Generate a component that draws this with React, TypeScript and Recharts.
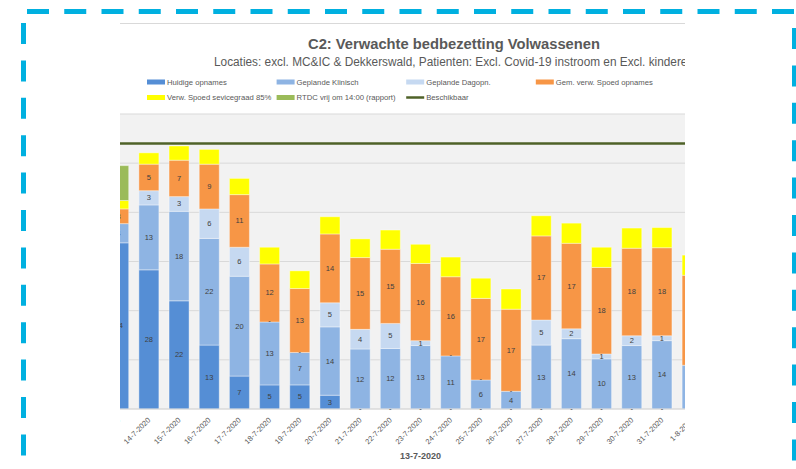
import React from "react";
import {
  ComposedChart,
  Bar,
  Line,
  XAxis,
  YAxis,
  CartesianGrid,
  Legend,
  LabelList,
} from "recharts";

const DATES = [
  "13-7-2020", "14-7-2020", "15-7-2020", "16-7-2020", "17-7-2020",
  "18-7-2020", "19-7-2020", "20-7-2020", "21-7-2020", "22-7-2020",
  "23-7-2020", "24-7-2020", "25-7-2020", "26-7-2020", "27-7-2020",
  "28-7-2020", "29-7-2020", "30-7-2020", "31-7-2020", "1-8-2020",
];
const HUIDIGE = [33.8, 28.3, 22.0, 13.0, 6.7, 4.9, 4.9, 2.8, 0, 0, 0, 0, 0, 0, 0, 0, 0, 0, 0, 0];
const KLINISCH = [3.9, 13.2, 18.2, 21.7, 20.3, 12.8, 6.6, 13.9, 12.2, 12.3, 12.9, 10.8, 5.9, 3.6, 13.0, 14.3, 10.2, 12.9, 13.9, 8.9];
const DAGOPN = [0, 2.9, 3.0, 6.0, 5.9, 0, 0, 4.9, 4.0, 5.1, 1.0, 0, 0, 0, 5.1, 2.0, 1.0, 2.0, 1.0, 0];
const SPOED = [3.0, 5.4, 7.4, 9.1, 10.7, 11.8, 13.0, 14.0, 14.6, 15.1, 15.7, 16.1, 16.6, 16.7, 17.1, 17.4, 17.6, 17.8, 17.9, 18.3];
const SERVICEGRAAD = [1.7, 2.3, 2.9, 3.0, 3.3, 3.4, 3.6, 3.5, 3.8, 3.9, 3.9, 4.0, 4.1, 4.1, 4.1, 4.1, 4.1, 4.1, 4.1, 4.1];
const RTDC = [7.1, 0, 0, 0, 0, 0, 0, 0, 0, 0, 0, 0, 0, 0, 0, 0, 0, 0, 0, 0];
const BESCHIKBAAR = [54, 54, 54, 54, 54, 54, 54, 54, 54, 54, 54, 54, 54, 54, 54, 54, 54, 54, 54, 54];
const Y_TICKS = [0, 10, 20, 30, 40, 50, 60];

const TITLE = "C2: Verwachte bedbezetting Volwassenen";
const SUBTITLE =
  "Locaties: excl. MC&IC & Dekkerswald, Patienten: Excl. Covid-19 instroom en Excl. kinderen";
const AXIS_TITLE = "13-7-2020";

const C_HUIDIGE = "#558ed5";
const C_KLINISCH = "#8eb4e3";
const C_DAGOPN = "#c6d9f1";
const C_SPOED = "#f79646";
const C_YELLOW = "#ffff00";
const C_RTDC = "#9bbb59";
const C_BESCHIKBAAR = "#4f6228";

const FONT = "'Liberation Sans', Arial, sans-serif";
const GREY = "#595959";
const LABEL_GREY = "#404040";

const data = DATES.map((date, i) => ({
  date,
  huidige: HUIDIGE[i],
  klinisch: KLINISCH[i],
  dagopn: DAGOPN[i],
  spoed: SPOED[i],
  servicegraad: SERVICEGRAAD[i],
  rtdc: RTDC[i],
  beschikbaar: BESCHIKBAAR[i],
}));

// legend layout: 4 columns, 2 rows
const LEGEND_ITEMS = [
  { name: "Huidige opnames", color: C_HUIDIGE, line: false },
  { name: "Geplande Klinisch", color: C_KLINISCH, line: false },
  { name: "Geplande Dagopn.", color: C_DAGOPN, line: false },
  { name: "Gem. verw. Spoed opnames", color: C_SPOED, line: false },
  { name: "Verw. Spoed sevicegraad 85%", color: C_YELLOW, line: false },
  { name: "RTDC vrij om 14:00 (rapport)", color: C_RTDC, line: false },
  { name: "Beschikbaar", color: C_BESCHIKBAAR, line: true },
];
const LEGEND_COLS = [147, 276.6, 406.2, 535.8];
const LEGEND_ROWS = [82, 97.5];

function ChartLegend() {
  return (
    <svg width={796} height={110} style={{ display: "block" }}>
      {LEGEND_ITEMS.map((it, i) => {
        const x = LEGEND_COLS[i % 4];
        const y = LEGEND_ROWS[Math.floor(i / 4)];
        return (
          <g key={it.name}>
            {it.line ? (
              <line x1={x} x2={x + 18} y1={y} y2={y} stroke={it.color} strokeWidth={2.5} />
            ) : (
              <rect x={x} y={y - 2.5} width={18} height={5} fill={it.color} />
            )}
            <text
              x={x + 20}
              y={y}
              dominantBaseline="central"
              fontSize={7.7}
              fontFamily={FONT}
              fill={GREY}
            >
              {it.name}
            </text>
          </g>
        );
      })}
    </svg>
  );
}

const labelText = (x: number, y: number, s: string | number) => (
  <text
    x={x}
    y={y}
    textAnchor="middle"
    dominantBaseline="central"
    fontSize={7.5}
    fontFamily={FONT}
    fill={LABEL_GREY}
  >
    {s}
  </text>
);

const getBox = (p: any) =>
  p.viewBox && p.viewBox.width !== undefined ? p.viewBox : p;

// plain value label, centred in the segment
const valueLabel = (p: any) => {
  const vb = getBox(p);
  const v = Number(p.value);
  return labelText(vb.x + vb.width / 2, vb.y + vb.height / 2, v === 0 ? "-" : Math.round(v));
};

// klinisch label also shows the "-" marks of empty huidige / dagopn segments
const klinischLabel = (p: any) => {
  const vb = getBox(p);
  const cx = vb.x + vb.width / 2;
  const top = Math.min(vb.y, vb.y + vb.height);
  const bottom = Math.max(vb.y, vb.y + vb.height);
  const i = p.index;
  const showTop = i != null && DAGOPN[i] === 0 && SPOED[i] > 4 && KLINISCH[i] > 3;
  return (
    <g>
      {labelText(cx, (top + bottom) / 2, Math.round(Number(p.value)))}
      {i != null && HUIDIGE[i] === 0 ? labelText(cx, bottom - 1, "-") : null}
      {showTop ? labelText(cx, top - 1, "-") : null}
    </g>
  );
};

const DateTick = (p: any) => {
  const x = p.x + 2;
  const y = p.y + 3.5;
  return (
    <text
      x={x}
      y={y}
      transform={`rotate(-45 ${x} ${y})`}
      textAnchor="end"
      fontSize={7.5}
      fontFamily={FONT}
      fill={GREY}
    >
      {p.payload.value}
    </text>
  );
};

const SEG_STROKE = { stroke: "#ffffff", strokeOpacity: 0.5, strokeWidth: 0.75 };

export default function App() {
  return (
    <div
      style={{
        position: "absolute",
        left: 0,
        top: 0,
        width: 796,
        height: 469,
        background: "#fff",
        overflow: "hidden",
      }}
    >
      {/* dashed frame */}
      <svg width={796} height={469} style={{ position: "absolute", left: 0, top: 0 }}>
        <line x1={27} x2={796} y1={11.5} y2={11.5} stroke="#00b0e0" strokeWidth={5} strokeDasharray="22 15.25" />
        <line x1={23.5} x2={23.5} y1={23} y2={469} stroke="#00b0e0" strokeWidth={5} strokeDasharray="21 16.4" />
        <line x1={794.5} x2={794.5} y1={28} y2={469} stroke="#00b0e0" strokeWidth={5} strokeDasharray="21 16.4" />
      </svg>

      {/* cropped chart */}
      <div
        style={{
          position: "absolute",
          left: 0,
          top: 0,
          width: 796,
          height: 469,
          clipPath: "inset(22px 111px 0px 120px)",
        }}
      >
        <svg width={796} height={469} style={{ position: "absolute", left: 0, top: 0 }}>
          <line x1={120} x2={685} y1={23.5} y2={23.5} stroke="#d9d9d9" />
          <text x={308} y={48.5} fontSize={14.5} fontWeight="bold" fontFamily={FONT} fill={GREY} textLength={292} lengthAdjust="spacingAndGlyphs">
            {TITLE}
          </text>
          <text x={214} y={66} fontSize={12} fontFamily={FONT} fill={GREY} textLength={480} lengthAdjust="spacingAndGlyphs">
            {SUBTITLE}
          </text>
        </svg>
        <div style={{ position: "absolute", left: 0, top: 0 }}>
          <ComposedChart
            width={796}
            height={469}
            data={data}
            margin={{ top: 114, right: 88.7, bottom: 0, left: 103.7 }}
          >
            <CartesianGrid vertical={false} fill="#f2f2f2" stroke="#d9d9d9" />
            <XAxis
              dataKey="date"
              height={60}
              interval={0}
              tickLine={false}
              axisLine={{ stroke: "#d9d9d9" }}
              tick={DateTick}
              label={{
                value: AXIS_TITLE,
                position: "insideBottom",
                offset: 10,
                dx: 15,
                fontSize: 9,
                fontWeight: "bold",
                fontFamily: FONT,
                fill: GREY,
              }}
            />
            <YAxis hide domain={[0, 60]} ticks={Y_TICKS} />
            <Legend
              layout="horizontal"
              verticalAlign="middle"
              align="center"
              wrapperStyle={{ left: 0, top: 0, width: 796, height: 110 }}
              content={() => <ChartLegend />}
            />
            <Bar dataKey="huidige" name="Huidige opnames" stackId="a" fill={C_HUIDIGE} {...SEG_STROKE} barSize={20} isAnimationActive={false}>
              <LabelList dataKey="huidige" content={valueLabel} />
            </Bar>
            <Bar dataKey="klinisch" name="Geplande Klinisch" stackId="a" fill={C_KLINISCH} {...SEG_STROKE} barSize={20} isAnimationActive={false}>
              <LabelList dataKey="klinisch" content={klinischLabel} />
            </Bar>
            <Bar dataKey="dagopn" name="Geplande Dagopn." stackId="a" fill={C_DAGOPN} {...SEG_STROKE} barSize={20} isAnimationActive={false}>
              <LabelList dataKey="dagopn" content={valueLabel} />
            </Bar>
            <Bar dataKey="spoed" name="Gem. verw. Spoed opnames" stackId="a" fill={C_SPOED} {...SEG_STROKE} barSize={20} isAnimationActive={false}>
              <LabelList dataKey="spoed" content={valueLabel} />
            </Bar>
            <Bar dataKey="servicegraad" name="Verw. Spoed sevicegraad 85%" stackId="a" fill={C_YELLOW} {...SEG_STROKE} barSize={20} isAnimationActive={false} />
            <Bar dataKey="rtdc" name="RTDC vrij om 14:00 (rapport)" stackId="a" fill={C_RTDC} {...SEG_STROKE} barSize={20} isAnimationActive={false} />
            <Line
              dataKey="beschikbaar"
              name="Beschikbaar"
              stroke={C_BESCHIKBAAR}
              strokeWidth={2.5}
              dot={false}
              activeDot={false}
              isAnimationActive={false}
            />
          </ComposedChart>
        </div>
      </div>
    </div>
  );
}
